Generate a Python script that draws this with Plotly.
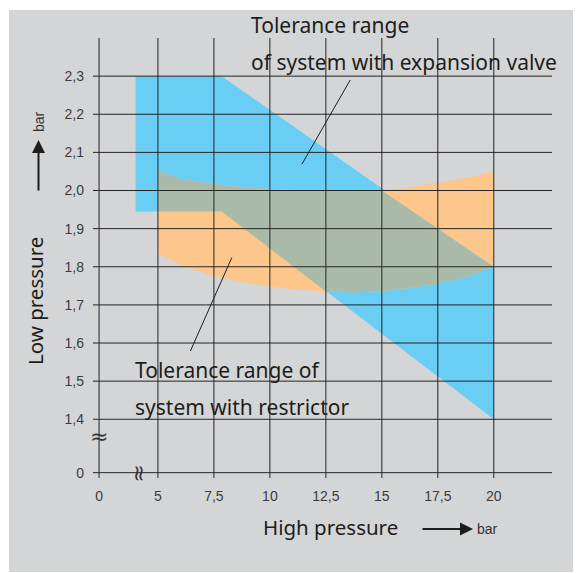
import plotly.graph_objects as go

# broken axes: the "0" ticks sit at these scale positions
X_ZERO = 2.37
Y_ZERO = 1.26

x_tick_vals = [X_ZERO, 5, 7.5, 10, 12.5, 15, 17.5, 20]
x_tick_text = ['0', '5', '7,5', '10', '12,5', '15', '17,5', '20']
y_tick_vals = [Y_ZERO, 1.4, 1.5, 1.6, 1.7, 1.8, 1.9, 2.0, 2.1, 2.2, 2.3]
y_tick_text = ['0', '1,4', '1,5', '1,6', '1,7', '1,8', '1,9', '2,0', '2,1', '2,2', '2,3']

# tolerance band, system with expansion valve
valve_x = [4.0, 7.85, 20, 20, 7.85, 4.0]
valve_y = [2.3, 2.3, 1.8, 1.4, 1.945, 1.945]

# tolerance band, system with restrictor (upper edge, then lower edge back)
restr_x = [5, 6, 7.5, 8.75, 10, 11.25, 12.5, 13.75, 15, 16.25, 17.5, 18.75, 20,
           20, 18.75, 17.5, 16.25, 15, 13.75, 12.5, 11.25, 10, 8.75, 7.5, 6, 5]
restr_y = [2.051, 2.03, 2.017, 2.009, 2.004, 2.001, 1.999, 1.999, 2.0, 2.009, 2.02, 2.033, 2.05,
           1.8, 1.774, 1.756, 1.744, 1.736, 1.733, 1.735, 1.740, 1.748, 1.760, 1.776, 1.805, 1.835]

# area where both bands overlap
both_x = [5, 6, 7.5, 8.75, 10, 11.25, 12.5, 13.75, 15, 20,
          20, 18.75, 17.5, 16.25, 15, 13.75, 12.5, 7.85, 5]
both_y = [2.051, 2.03, 2.017, 2.009, 2.004, 2.001, 1.999, 1.999, 2.0, 1.8,
          1.8, 1.774, 1.756, 1.744, 1.736, 1.733, 1.735, 1.945, 1.945]

BLUE = '#6acdf4'
ORANGE = '#fdc68b'
MIXED = '#a9bba8'
PANEL = '#d4d5d7'
INK = '#1d1d1b'
GRID = '#262424'
TEXT_FONT = 'Noto Sans'
NUM_FONT = 'Liberation Sans'

W, H = 581, 573
OFF = 8  # page body margin, positions below are screen pixels
L, T = 93 - OFF, 38 - OFF
R, B = W - (552 - OFF), H - (478 - OFF)
PW, PH = W - L - R, H - T - B


def px(x):
    return (x - OFF - L) / PW


def py(y):
    return 1 - (y - OFF - T) / PH


fig = go.Figure()
for xs, ys, col in [(valve_x, valve_y, BLUE), (restr_x, restr_y, ORANGE), (both_x, both_y, MIXED)]:
    fig.add_trace(go.Scatter(x=xs, y=ys, fill='toself', fillcolor=col, mode='lines',
                             line=dict(width=0, color=col), hoverinfo='skip', showlegend=False))

# grid drawn above the bands, like the original
for v in x_tick_vals:
    fig.add_vline(x=v, line=dict(color=GRID, width=1), layer='above')
for v in y_tick_vals:
    fig.add_hline(y=v, line=dict(color=GRID, width=1), layer='above')

# leader lines
fig.add_shape(type='line', x0=13.59, y0=2.29, x1=11.43, y1=2.069, line=dict(color=INK, width=1))
fig.add_shape(type='line', x0=8.30, y0=1.824, x1=6.45, y1=1.579, line=dict(color=INK, width=1))

# grey panel behind everything
fig.add_shape(type='rect', xref='paper', yref='paper', x0=px(9), x1=px(578), y0=py(572), y1=py(10),
              fillcolor=PANEL, line=dict(width=0), layer='below')

ann = []


def text(x, y, s, size=21, xanchor='left', angle=0, font=TEXT_FONT, color=INK):
    ann.append(dict(x=px(x), y=py(y), xref='paper', yref='paper', text=s, showarrow=False,
                    xanchor=xanchor, yanchor='middle', textangle=angle,
                    font=dict(family=font, size=size, color=color)))


text(249, 25, 'Tolerance range')
text(249, 62, 'of system with expansion valve')
text(133, 370, 'Tolerance range of')
text(133, 407, 'system with restrictor')
text(330, 527, 'High pressure', size=20.5, xanchor='center')
text(35, 301, 'Low pressure', size=20.5, xanchor='center', angle=-90)
text(487, 529, 'bar', size=14, xanchor='center', font=NUM_FONT, color='#333333')
text(39, 122, 'bar', size=14, xanchor='center', angle=-90, font=NUM_FONT, color='#333333')
# axis break marks
text(99, 436, '≈', size=22, xanchor='center', font='DejaVu Sans', color='#333333')
text(139.5, 472.7, '≈', size=22, xanchor='center', angle=90, font='DejaVu Sans', color='#333333')

# unit arrows
ann.append(dict(x=px(473), y=py(529), xref='paper', yref='paper', ax=-52, ay=0, text='',
                showarrow=True, arrowhead=2, arrowsize=1.3, arrowwidth=2, arrowcolor=INK, standoff=0))
ann.append(dict(x=px(38.5), y=py(140), xref='paper', yref='paper', ax=0, ay=52, text='',
                showarrow=True, arrowhead=2, arrowsize=1.3, arrowwidth=2, arrowcolor=INK, standoff=0))

fig.update_layout(
    width=W, height=H,
    margin=dict(l=L, r=R, t=T, b=B),
    paper_bgcolor='white',
    plot_bgcolor=PANEL,
    annotations=ann,
    xaxis=dict(range=[2.10, 22.6], tickvals=x_tick_vals, ticktext=x_tick_text,
               showgrid=False, zeroline=False, ticks='', ticklabelstandoff=8,
               tickfont=dict(family=NUM_FONT, size=14, color='#3c3c3c')),
    yaxis=dict(range=[1.246, 2.40], tickvals=y_tick_vals, ticktext=y_tick_text,
               showgrid=False, zeroline=False, ticks='', ticklabelstandoff=8,
               tickfont=dict(family=NUM_FONT, size=14, color='#3c3c3c')),
)

fig.write_html('out.html')
